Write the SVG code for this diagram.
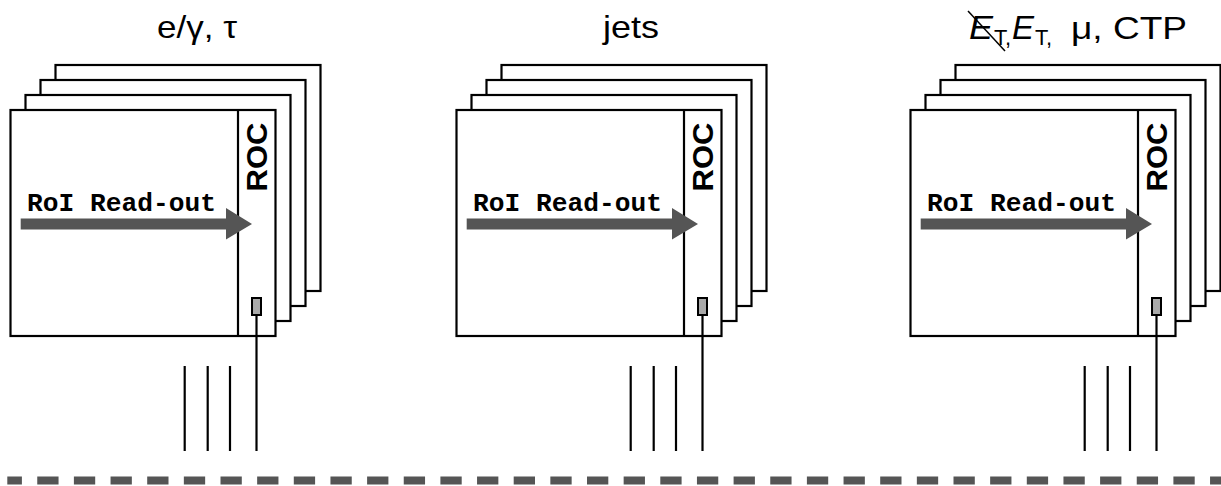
<svg xmlns="http://www.w3.org/2000/svg" width="1221" height="486" viewBox="0 0 1221 486">
<style>
.card{fill:#fff;stroke:#000;stroke-width:2.2}
.ln{stroke:#000;stroke-width:2.2;fill:none}
.chip{fill:#aaa;stroke:#000;stroke-width:2}
.arr{fill:#555}
.roi{font-family:"Liberation Mono",monospace;font-weight:bold;font-size:25px;fill:#000}
.roc{font-family:"Liberation Sans",Arial,sans-serif;font-weight:bold;font-size:29px;fill:#000}
.title{font-family:"Liberation Sans",Arial,sans-serif;font-size:32px;fill:#000}
.it{font-style:italic;font-size:34px}
.sub{font-size:22px}
</style>
<defs>
<g id="stack">
<rect class="card" x="55.5" y="65" width="265" height="226"/>
<rect class="card" x="40.5" y="80" width="265" height="226"/>
<rect class="card" x="25.5" y="95" width="265" height="226"/>
<rect class="card" x="10.5" y="110" width="265" height="226"/>
<line class="ln" x1="238" y1="110" x2="238" y2="336"/>
<polygon class="arr" points="20.7,218.5 226,218.5 226,208 252,224 226,239.5 226,229.5 20.7,229.5"/>
<text class="roi" x="27" y="211" textLength="189" lengthAdjust="spacingAndGlyphs">RoI Read-out</text>
<text class="roc" transform="translate(266.5,157) rotate(-90)" text-anchor="middle" textLength="69" lengthAdjust="spacingAndGlyphs">ROC</text>
<rect class="chip" x="252" y="298" width="9" height="17"/>
</g>
<g id="wires">
<line class="ln" x1="256.5" y1="315" x2="256.5" y2="451"/>
<line class="ln" x1="184.7" y1="366" x2="184.7" y2="451"/>
<line class="ln" x1="207.7" y1="366" x2="207.7" y2="451"/>
<line class="ln" x1="230" y1="366" x2="230" y2="451"/>
</g>
</defs>
<g id="module-egamma">
<use href="#stack"/>
<text class="title" x="157" y="38" textLength="80" lengthAdjust="spacingAndGlyphs">e/γ, τ</text>
</g>
<g id="module-jets">
<use href="#stack" transform="translate(446,0)"/>
<text class="title" x="603" y="38" textLength="56" lengthAdjust="spacingAndGlyphs">jets</text>
</g>
<g id="module-et">
<use href="#stack" transform="translate(900,0)"/>
<text class="title it" x="969" y="39" textLength="24" lengthAdjust="spacingAndGlyphs">E</text>
<text class="title sub" x="994" y="45" textLength="17" lengthAdjust="spacingAndGlyphs">T,</text>
<text class="title it" x="1012" y="39" textLength="22" lengthAdjust="spacingAndGlyphs">E</text>
<text class="title sub" x="1035" y="45" textLength="17" lengthAdjust="spacingAndGlyphs">T,</text>
<line x1="968" y1="11" x2="1005" y2="51" stroke="#000" stroke-width="1.5"/>
<text class="title" x="1071" y="39" textLength="116" lengthAdjust="spacingAndGlyphs">μ, CTP</text>
</g>
<g id="connectors">
<use href="#wires"/>
<use href="#wires" transform="translate(446,0)"/>
<use href="#wires" transform="translate(900,0)"/>
</g>
<g id="boundary">
<line x1="7.3" y1="480.5" x2="1221" y2="480.5" stroke="#555" stroke-width="8" stroke-dasharray="21.3 15.35" stroke-dashoffset="6.7"/>
</g>
</svg>
